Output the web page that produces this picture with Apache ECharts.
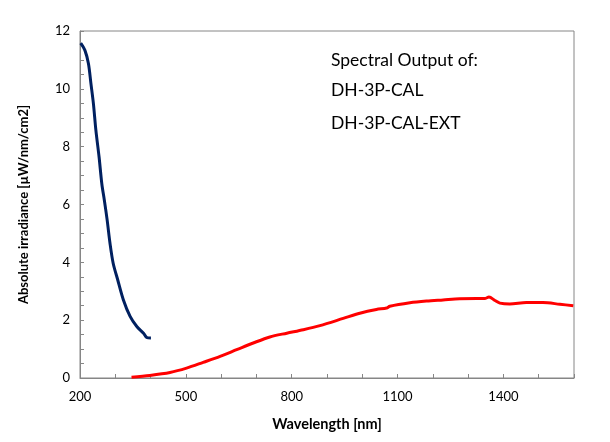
<!DOCTYPE html>
<html>
<head>
<meta charset="utf-8">
<script src="https://cdn.jsdelivr.net/npm/echarts@6/dist/echarts.min.js"></script>
<style>
html,body{margin:0;padding:0;background:#fff;}
#c{width:610px;height:442px;}
</style>
</head>
<body>
<div id="c"></div>
<script>
// Wavelength (nm) and irradiance values
const calWavelength = [202, 214, 224, 231, 238, 245, 254, 262, 269, 277, 285, 294, 307, 323, 342, 361, 380, 389, 401];
const calIrradiance = [11.58, 11.33, 10.87, 10.18, 9.49, 8.57, 7.65, 6.7, 6.15, 5.46, 4.66, 3.97, 3.39, 2.70, 2.13, 1.78, 1.55, 1.40, 1.38];

const extWavelength = [346, 398, 455, 502, 549, 597, 644, 691, 738, 786, 833, 880, 946, 993, 1040, 1069, 1078, 1135, 1182, 1229, 1276, 1324, 1347, 1359, 1376, 1390, 1418, 1465, 1512, 1560, 1598];
const extIrradiance = [0.03, 0.09, 0.19, 0.34, 0.54, 0.75, 0.98, 1.21, 1.42, 1.55, 1.67, 1.81, 2.06, 2.24, 2.37, 2.42, 2.48, 2.60, 2.66, 2.70, 2.74, 2.75, 2.75, 2.80, 2.68, 2.59, 2.56, 2.61, 2.61, 2.55, 2.50];

const xLabels = [200, 500, 800, 1100, 1400];
const yLabels = [0, 2, 4, 6, 8, 10, 12];
const annotationLines = ['Spectral Output of:', 'DH-3P-CAL', 'DH-3P-CAL-EXT'];

const FONT = 'Lato, "Open Sans", sans-serif';
const chart = echarts.init(document.getElementById('c'), null, {renderer: 'canvas'});

const pair = (xs, ys) => xs.map((x, i) => [x, ys[i]]);

chart.setOption({
  animation: false,
  backgroundColor: '#ffffff',
  grid: {left: 80, top: 31, width: 494, height: 347, show: true, borderColor: '#868686', borderWidth: 1, backgroundColor: 'transparent'},
  xAxis: {
    type: 'value', min: 200, max: 1600, interval: 100,
    name: 'Wavelength [nm]', nameLocation: 'middle', nameGap: 39,
    nameTextStyle: {fontFamily: FONT, fontWeight: 'bold', fontSize: 14.5, color: '#000'},
    axisLine: {show: true, lineStyle: {color: '#868686', width: 1}},
    axisTick: {show: true, inside: true, length: 4, lineStyle: {color: '#868686'}},
    axisLabel: {fontFamily: FONT, fontSize: 13, color: '#000', margin: 12,
      formatter: v => xLabels.includes(Math.round(v)) ? String(Math.round(v)) : ''},
    splitLine: {show: false}
  },
  yAxis: {
    type: 'value', min: 0, max: 12, interval: 0.5,
    name: 'Absolute irradiance [µW/nm/cm2]', nameLocation: 'middle', nameGap: 50,
    nameTextStyle: {fontFamily: FONT, fontWeight: 'bold', fontSize: 13, color: '#000'},
    axisLine: {show: true, lineStyle: {color: '#868686', width: 1}},
    axisTick: {show: true, inside: true, length: 4, lineStyle: {color: '#868686'}},
    axisLabel: {fontFamily: FONT, fontSize: 13, color: '#000', margin: 10,
      formatter: v => yLabels.includes(v) ? String(v) : ''},
    splitLine: {show: false}
  },
  series: [
    {type: 'line', name: 'DH-3P-CAL', data: pair(calWavelength, calIrradiance), showSymbol: false, symbol: 'none', smooth: 0.3,
      lineStyle: {color: '#002060', width: 3}, z: 3},
    {type: 'line', name: 'DH-3P-CAL-EXT', data: pair(extWavelength, extIrradiance), showSymbol: false, symbol: 'none', smooth: 0.3,
      lineStyle: {color: '#ff0000', width: 3}, z: 3}
  ],
  graphic: annotationLines.map((t, i) => ({
    type: 'text', left: 331, top: [51, 81, 114][i],
    style: {text: t, fontFamily: FONT, fontSize: 17.5, fill: '#000'}
  }))
});
</script>
</body>
</html>
